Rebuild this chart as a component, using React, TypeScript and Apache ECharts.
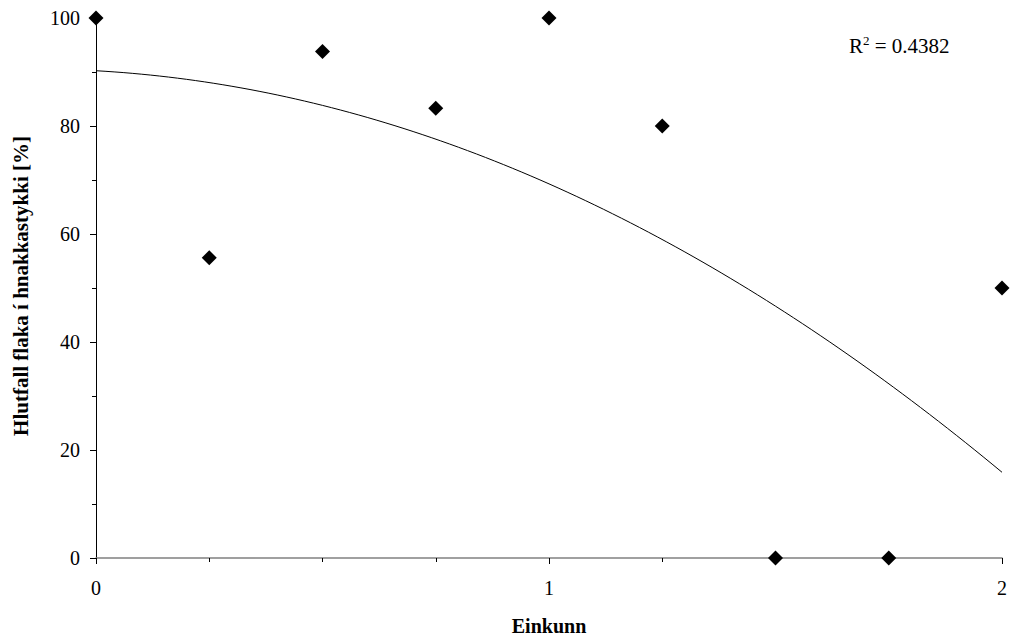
import React, { useEffect, useRef } from "react";
import * as echarts from "echarts";

const xValues = [0, 0.25, 0.5, 0.75, 1, 1.25, 1.5, 1.75, 2];
const yValues = [100, 55.6, 93.8, 83.3, 100, 80, 0, 0, 50];
const rSquaredText = "0.4382";
const xTitle = "Einkunn";
const yTitle = "Hlutfall flaka í hnakkastykki [%]";

// least-squares quadratic fit of the data (Excel-style polynomial trendline, order 2)
function quadFit(xs: number[], ys: number[]) {
  const n = xs.length;
  let s0 = n, s1 = 0, s2 = 0, s3 = 0, s4 = 0, t0 = 0, t1 = 0, t2 = 0;
  for (let i = 0; i < n; i++) {
    const x = xs[i], y = ys[i];
    s1 += x; s2 += x * x; s3 += x * x * x; s4 += x * x * x * x;
    t0 += y; t1 += x * y; t2 += x * x * y;
  }
  const M = [
    [s0, s1, s2, t0],
    [s1, s2, s3, t1],
    [s2, s3, s4, t2],
  ];
  for (let c = 0; c < 3; c++) {
    for (let r = c + 1; r < 3; r++) {
      const f = M[r][c] / M[c][c];
      for (let k = c; k < 4; k++) M[r][k] -= f * M[c][k];
    }
  }
  const coef = [0, 0, 0];
  for (let r = 2; r >= 0; r--) {
    let s = M[r][3];
    for (let k = r + 1; k < 3; k++) s -= M[r][k] * coef[k];
    coef[r] = s / M[r][r];
  }
  return coef;
}

export default function App() {
  const ref = useRef<HTMLDivElement>(null);
  useEffect(() => {
    if (!ref.current) return;
    const chart = echarts.init(ref.current, undefined, { renderer: "svg" });
    const [a, b, c] = quadFit(xValues, yValues);
    const trend: number[][] = [];
    const steps = 100;
    const xmin = xValues[0], xmax = xValues[xValues.length - 1];
    for (let i = 0; i <= steps; i++) {
      const x = xmin + ((xmax - xmin) * i) / steps;
      trend.push([x, a + b * x + c * x * x]);
    }
    const font = "'Liberation Serif', 'Times New Roman', serif";
    chart.setOption({
      animation: false,
      backgroundColor: "#ffffff",
      textStyle: { fontFamily: font },
      grid: { left: 96, right: 7, top: 18, bottom: 86, containLabel: false },
      xAxis: {
        type: "value",
        min: 0,
        max: 2,
        interval: 1,
        name: xTitle,
        nameLocation: "middle",
        nameGap: 58,
        nameTextStyle: { fontFamily: font, fontSize: 20, fontWeight: "bold", color: "#000" },
        axisLine: { show: true, onZero: false, lineStyle: { color: "#808080", width: 1.5 } },
        axisTick: { show: true, inside: false, length: 6, lineStyle: { color: "#000" } },
        minorTick: { show: true, splitNumber: 4, length: 4, lineStyle: { color: "#000" } },
        axisLabel: { fontFamily: font, fontSize: 20, color: "#000", margin: 20 },
        splitLine: { show: false },
      },
      yAxis: {
        type: "value",
        min: 0,
        max: 100,
        interval: 20,
        axisLine: { show: true, lineStyle: { color: "#000", width: 1 } },
        axisTick: { show: true, inside: false, length: 6, lineStyle: { color: "#000" } },
        minorTick: { show: true, splitNumber: 2, length: 4, lineStyle: { color: "#000" } },
        axisLabel: { fontFamily: font, fontSize: 20, color: "#000", margin: 16 },
        splitLine: { show: false },
      },
      series: [
        {
          type: "line",
          data: trend,
          showSymbol: false,
          symbol: "none",
          smooth: false,
          lineStyle: { color: "#000", width: 1 },
          z: 2,
          silent: true,
        },
        {
          type: "scatter",
          data: xValues.map((x, i) => [x, yValues[i]]),
          symbol: "diamond",
          symbolSize: 15,
          itemStyle: { color: "#000", opacity: 1 },
          z: 3,
        },
      ],
      graphic: [
        {
          type: "text",
          x: 21,
          y: 286,
          rotation: Math.PI / 2,
          style: {
            text: yTitle,
            fontFamily: font,
            fontSize: 21,
            fontWeight: "bold",
            fill: "#000",
            align: "center",
            verticalAlign: "middle",
          },
        },
        {
          type: "text",
          left: 849,
          top: 34,
          style: {
            text: "{r|R}{s|2}{r| = " + rSquaredText + "}",
            rich: {
              r: { fontFamily: font, fontSize: 21, fill: "#000", verticalAlign: "bottom", lineHeight: 22 },
              s: { fontFamily: font, fontSize: 13, fill: "#000", verticalAlign: "top", lineHeight: 22, padding: [0, 0, 8, 0] },
            },
          },
        },
      ],
    });
    return () => chart.dispose();
  }, []);
  return (
    <div
      ref={ref}
      style={{ position: "absolute", left: 0, top: 0, width: 1010, height: 644 }}
    />
  );
}
